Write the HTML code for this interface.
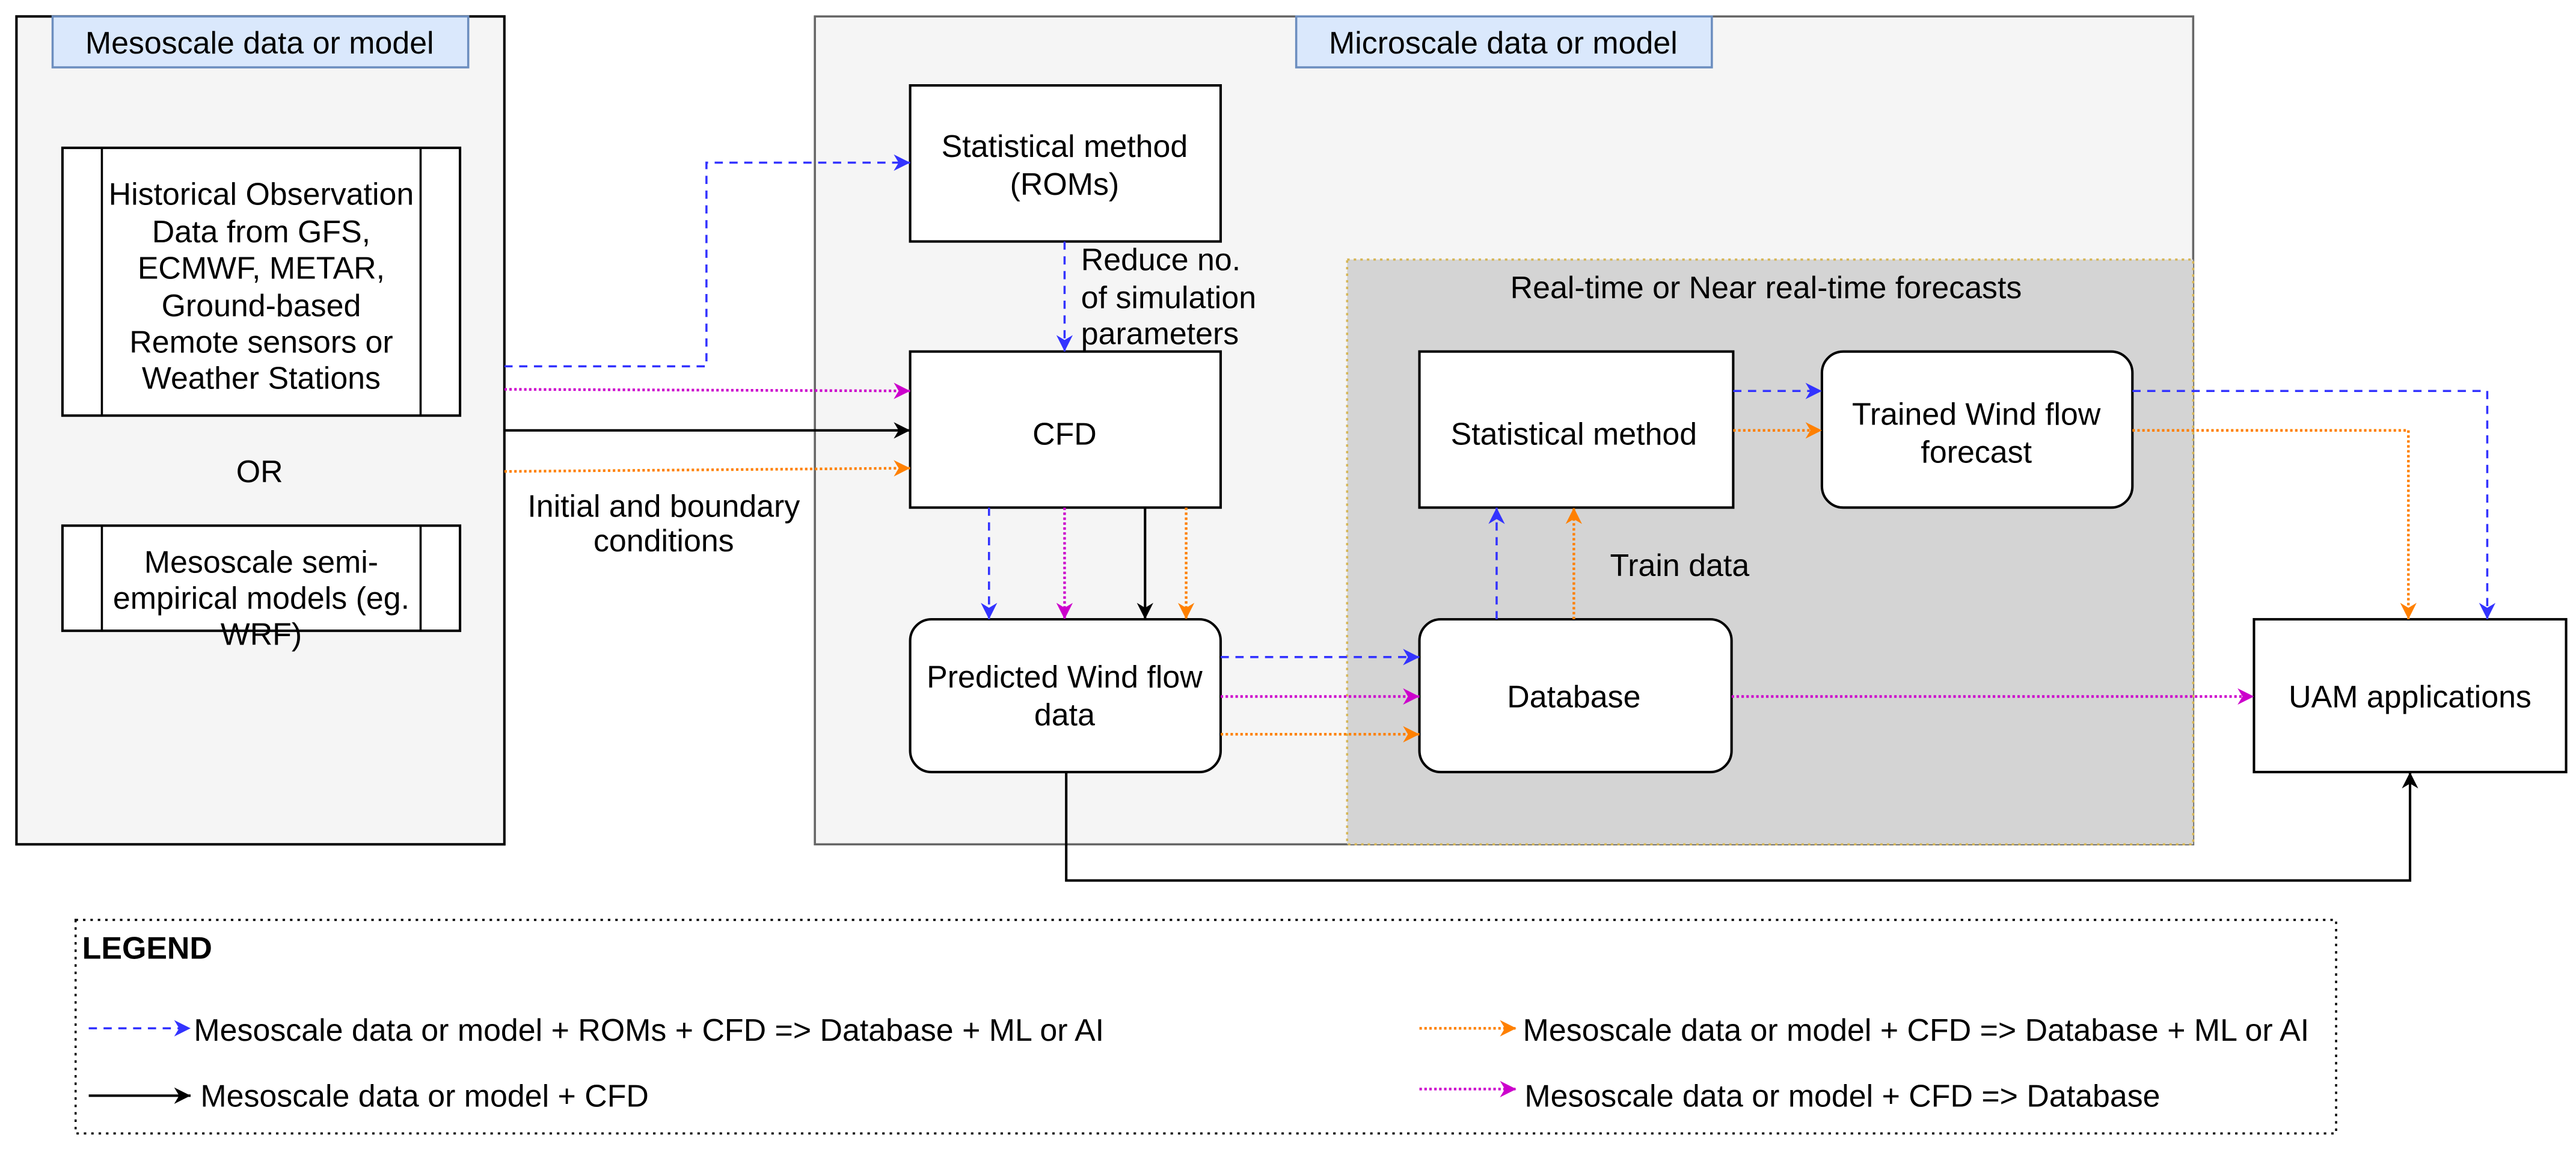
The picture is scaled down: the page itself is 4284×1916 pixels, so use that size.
<!DOCTYPE html>
<html><head><meta charset="utf-8"><style>
html,body{margin:0;padding:0;background:#fff}
svg{display:block}
text{font-family:"Liberation Sans",Arial,sans-serif;font-size:19px;fill:#000}
</style></head><body>
<svg width="4284" height="1916" viewBox="0 0 1568 701.3" xmlns="http://www.w3.org/2000/svg" font-family="Liberation Sans, Arial, sans-serif">
<defs>
<marker id="mb" markerUnits="userSpaceOnUse" markerWidth="12" markerHeight="10" refX="10" refY="5" orient="auto"><path d="M0,0 L10,5 L0,10 L3,5 z" fill="#3333ff"/></marker>
<marker id="mm" markerUnits="userSpaceOnUse" markerWidth="12" markerHeight="10" refX="10" refY="5" orient="auto"><path d="M0,0 L10,5 L0,10 L3,5 z" fill="#cc00cc"/></marker>
<marker id="mo" markerUnits="userSpaceOnUse" markerWidth="12" markerHeight="10" refX="10" refY="5" orient="auto"><path d="M0,0 L10,5 L0,10 L3,5 z" fill="#ff8000"/></marker>
<marker id="mk" markerUnits="userSpaceOnUse" markerWidth="12" markerHeight="10" refX="10" refY="5" orient="auto"><path d="M0,0 L10,5 L0,10 L3,5 z" fill="#000"/></marker>
</defs>
<g fill="none" stroke-width="1.3">
<rect x="10" y="10" width="297" height="504" fill="#f5f5f5" stroke="#000" stroke-width="1.5"/>
<rect x="32" y="10" width="253" height="31" fill="#dae8fc" stroke="#6c8ebf"/>
<rect x="496" y="10" width="839" height="504" fill="#f5f5f5" stroke="#666"/>
<rect x="789" y="10" width="253" height="31" fill="#dae8fc" stroke="#6c8ebf"/>
<rect x="820" y="158" width="515" height="356" fill="#d4d4d4" stroke="#d6b656" stroke-dasharray="1.5 2.5"/>
<rect x="38" y="90" width="242" height="163" fill="#fff" stroke="#000" stroke-width="1.5"/>
<line x1="62" y1="90" x2="62" y2="253" stroke="#000"/><line x1="256" y1="90" x2="256" y2="253" stroke="#000"/>
<rect x="38" y="320" width="242" height="64" fill="#fff" stroke="#000" stroke-width="1.5"/>
<line x1="62" y1="320" x2="62" y2="384" stroke="#000"/><line x1="256" y1="320" x2="256" y2="384" stroke="#000"/>
<rect x="554" y="52" width="189" height="95" fill="#fff" stroke="#000" stroke-width="1.5"/>
<rect x="554" y="214" width="189" height="95" fill="#fff" stroke="#000" stroke-width="1.5"/>
<rect x="554" y="377" width="189" height="93" rx="13" fill="#fff" stroke="#000" stroke-width="1.5"/>
<rect x="864" y="214" width="191" height="95" fill="#fff" stroke="#000" stroke-width="1.5"/>
<rect x="1109" y="214" width="189" height="95" rx="13" fill="#fff" stroke="#000" stroke-width="1.5"/>
<rect x="864" y="377" width="190" height="93" rx="13" fill="#fff" stroke="#000" stroke-width="1.5"/>
<rect x="1372" y="377" width="190" height="93" fill="#fff" stroke="#000" stroke-width="1.5"/>
<rect x="46" y="560" width="1376" height="130" stroke="#000" stroke-dasharray="1.5 3"/>
<polyline points="307,223 430,223 430,99 554,99" stroke="#3333ff" stroke-dasharray="5 4" marker-end="url(#mb)"/>
<line x1="307" y1="237" x2="554" y2="238" stroke="#cc00cc" stroke-dasharray="1.5 1.5" stroke-width="1.6" marker-end="url(#mm)"/>
<line x1="307" y1="262" x2="554" y2="262" stroke="#000" stroke-width="1.5" marker-end="url(#mk)"/>
<line x1="307" y1="287" x2="554" y2="285" stroke="#ff8000" stroke-dasharray="1.5 1.5" stroke-width="1.6" marker-end="url(#mo)"/>
<line x1="648" y1="147" x2="648" y2="214" stroke="#3333ff" stroke-dasharray="5 4" marker-end="url(#mb)"/>
<line x1="602" y1="309" x2="602" y2="377" stroke="#3333ff" stroke-dasharray="5 4" marker-end="url(#mb)"/>
<line x1="648" y1="309" x2="648" y2="377" stroke="#cc00cc" stroke-dasharray="1.5 1.5" stroke-width="1.6" marker-end="url(#mm)"/>
<line x1="697" y1="309" x2="697" y2="377" stroke="#000" stroke-width="1.5" marker-end="url(#mk)"/>
<line x1="722" y1="309" x2="722" y2="377" stroke="#ff8000" stroke-dasharray="1.5 1.5" stroke-width="1.6" marker-end="url(#mo)"/>
<line x1="743" y1="400" x2="864" y2="400" stroke="#3333ff" stroke-dasharray="5 4" marker-end="url(#mb)"/>
<line x1="743" y1="424" x2="864" y2="424" stroke="#cc00cc" stroke-dasharray="1.5 1.5" stroke-width="1.6" marker-end="url(#mm)"/>
<line x1="743" y1="447" x2="864" y2="447" stroke="#ff8000" stroke-dasharray="1.5 1.5" stroke-width="1.6" marker-end="url(#mo)"/>
<line x1="911" y1="377" x2="911" y2="309" stroke="#3333ff" stroke-dasharray="5 4" marker-end="url(#mb)"/>
<line x1="958" y1="377" x2="958" y2="309" stroke="#ff8000" stroke-dasharray="1.5 1.5" stroke-width="1.6" marker-end="url(#mo)"/>
<line x1="1055" y1="238" x2="1109" y2="238" stroke="#3333ff" stroke-dasharray="5 4" marker-end="url(#mb)"/>
<line x1="1055" y1="262" x2="1109" y2="262" stroke="#ff8000" stroke-dasharray="1.5 1.5" stroke-width="1.6" marker-end="url(#mo)"/>
<polyline points="1298,238 1514,238 1514,377" stroke="#3333ff" stroke-dasharray="5 4" marker-end="url(#mb)"/>
<polyline points="1298,262 1466,262 1466,377" stroke="#ff8000" stroke-dasharray="1.5 1.5" stroke-width="1.6" marker-end="url(#mo)"/>
<line x1="1054" y1="424" x2="1372" y2="424" stroke="#cc00cc" stroke-dasharray="1.5 1.5" stroke-width="1.6" marker-end="url(#mm)"/>
<polyline points="649,470 649,536 1467,536 1467,470" stroke="#000" stroke-width="1.5" marker-end="url(#mk)"/>
<line x1="54" y1="626" x2="116" y2="626" stroke="#3333ff" stroke-dasharray="5 4" marker-end="url(#mb)"/>
<line x1="54" y1="667" x2="116" y2="667" stroke="#000" stroke-width="1.5" marker-end="url(#mk)"/>
<line x1="864" y1="626" x2="923" y2="626" stroke="#ff8000" stroke-dasharray="1.5 1.5" stroke-width="1.6" marker-end="url(#mo)"/>
<line x1="864" y1="663" x2="923" y2="663" stroke="#cc00cc" stroke-dasharray="1.5 1.5" stroke-width="1.6" marker-end="url(#mm)"/>
</g>
<g text-anchor="middle" dominant-baseline="central">
<text x="158" y="26">Mesoscale data or model</text>
<text x="915" y="26">Microscale data or model</text>
<text x="159" y="118">Historical Observation</text>
<text x="159" y="141">Data from GFS,</text>
<text x="159" y="163">ECMWF, METAR,</text>
<text x="159" y="186">Ground-based</text>
<text x="159" y="208">Remote sensors or</text>
<text x="159" y="230">Weather Stations</text>
<text x="158" y="287">OR</text>
<text x="159" y="342">Mesoscale semi-</text>
<text x="159" y="364">empirical models (eg.</text>
<text x="159" y="386">WRF)</text>
<text x="404" y="308">Initial and boundary</text>
<text x="404" y="329">conditions</text>
<text x="648" y="89">Statistical method</text>
<text x="648" y="112">(ROMs)</text>
<text x="648" y="264">CFD</text>
<text x="648" y="412">Predicted Wind flow</text>
<text x="648" y="435">data</text>
<text x="1075" y="175">Real-time or Near real-time forecasts</text>
<text x="958" y="264">Statistical method</text>
<text x="1203" y="252">Trained Wind flow</text>
<text x="1203" y="275">forecast</text>
<text x="958" y="424">Database</text>
<text x="1467" y="424">UAM applications</text>
</g>
<g dominant-baseline="central">
<text x="658" y="158">Reduce no.</text>
<text x="658" y="181">of simulation</text>
<text x="658" y="203">parameters</text>
<text x="980" y="344">Train data</text>
<text x="50" y="577" font-weight="bold">LEGEND</text>
<text x="118" y="627">Mesoscale data or model + ROMs + CFD =&gt; Database + ML or AI</text>
<text x="122" y="667">Mesoscale data or model + CFD</text>
<text x="927" y="627">Mesoscale data or model + CFD =&gt; Database + ML or AI</text>
<text x="928" y="667">Mesoscale data or model + CFD =&gt; Database</text>
</g>
</svg>
</body></html>
